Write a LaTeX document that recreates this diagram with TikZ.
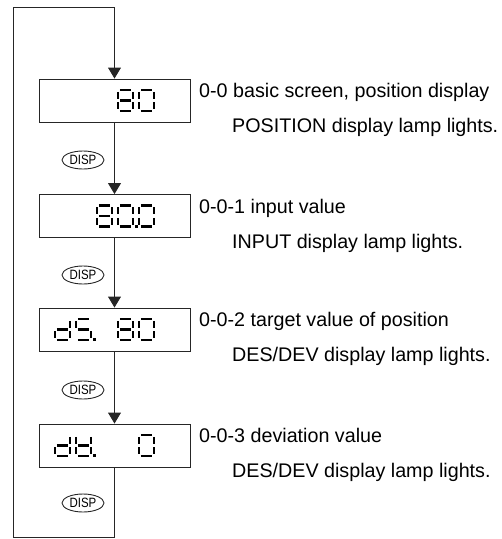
\documentclass[tikz,border=0pt]{standalone}
\usepackage{fontspec}
\setmainfont{Liberation Sans}
\usetikzlibrary{arrows.meta,shapes.geometric}
\tikzset{
  disp/.style={draw=black!85,line width=0.9pt,rectangle,minimum width=151pt,minimum height=43pt,inner sep=0pt},
  key/.style={draw=black!85,line width=0.9pt,ellipse,minimum width=42pt,minimum height=18pt,inner sep=0pt,
    font=\fontsize{13.5}{14}\selectfont},
  lbl/.style={anchor=base west,inner sep=0pt,font=\fontsize{19.7}{22}\selectfont},
  flow/.style={draw=black!85,line width=0.9pt},
  arr/.style={flow,-{Triangle[width=13pt,length=11pt]}},
  seg/.style={line width=2.7pt,line cap=butt,black}
}
\def\sga{\draw[seg] (1.9,0) -- (13.1,0);}
\def\sgb{\draw[seg] (15,1.9) -- (15,8.7);}
\def\sgc{\draw[seg] (15,12.3) -- (15,19.1);}
\def\sgd{\draw[seg] (1.9,21) -- (13.1,21);}
\def\sge{\draw[seg] (0,12.3) -- (0,19.1);}
\def\sgf{\draw[seg] (0,1.9) -- (0,8.7);}
\def\sgg{\draw[seg] (1.9,10.5) -- (13.1,10.5);}
\def\sgp{\fill (17,19.3) rectangle (19.8,22.1);}
\newcommand\sdigit[3]{\begin{scope}[shift={(#1,#2)}]\foreach \s in {#3}{\csname sg\s\endcsname}\end{scope}}
\begin{document}
\begin{tikzpicture}[x=1pt,y=-1pt]
\useasboundingbox (0,0) rectangle (502,539);
% boxes
\node[disp] (b1) at (114.5,100.5) {};
\node[disp] (b2) at (114.5,216) {};
\node[disp] (b3) at (114.5,329.5) {};
\node[disp] (b4) at (114.5,445.5) {};
% keys
\node[key] (k1) at (83,160) {\scalebox{0.85}[1]{DISP}};
\node[key] (k2) at (83,275) {\scalebox{0.85}[1]{DISP}};
\node[key] (k3) at (83,390) {\scalebox{0.85}[1]{DISP}};
\node[key] (k4) at (83,503) {\scalebox{0.85}[1]{DISP}};
% loop
\coordinate (tl) at (13,7);
\coordinate (tr) at (114.5,7);
\coordinate (bl) at (13,537);
\coordinate (br) at (114.5,537);
\draw[arr] (b4.south) -- (br) -- (bl) -- (tl) -- (tr) -- (b1.north);
\draw[arr] (b1.south) -- (b2.north);
\draw[arr] (b2.south) -- (b3.north);
\draw[arr] (b3.south) -- (b4.north);
% digits box 1: "80"
\sdigit{118}{90}{a,b,c,d,e,f,g}
\sdigit{139}{90}{a,b,c,d,e,f}
% box 2: "80.0"
\sdigit{97}{205.5}{a,b,c,d,e,f,g}
\sdigit{118}{205.5}{a,b,c,d,e,f,p}
\sdigit{139}{205.5}{a,b,c,d,e,f}
% box 3: "dS. 80"
\sdigit{55}{319}{b,c,d,e,g}
\sdigit{76}{319}{a,f,g,c,d,p}
\sdigit{118}{319}{a,b,c,d,e,f,g}
\sdigit{139}{319}{a,b,c,d,e,f}
% box 4: "dU. 0"
\sdigit{55}{435}{b,c,d,e,g}
\sdigit{76}{435}{b,c,d,e,f,g,p}
\sdigit{139}{435}{a,b,c,d,e,f}
% labels
\node[lbl] (t1) at (199,97) {0-0 basic screen, position display};
\node[lbl] (s1) at (232,132) {POSITION display lamp lights.};
\node[lbl] (t2) at (199,213) {0-0-1 input value};
\node[lbl] (s2) at (232,248) {INPUT display lamp lights.};
\node[lbl] (t3) at (199,326) {0-0-2 target value of position};
\node[lbl] (s3) at (232,361) {DES/DEV display lamp lights.};
\node[lbl] (t4) at (199,442) {0-0-3 deviation value};
\node[lbl] (s4) at (232,477) {DES/DEV display lamp lights.};
\end{tikzpicture}
\end{document}
